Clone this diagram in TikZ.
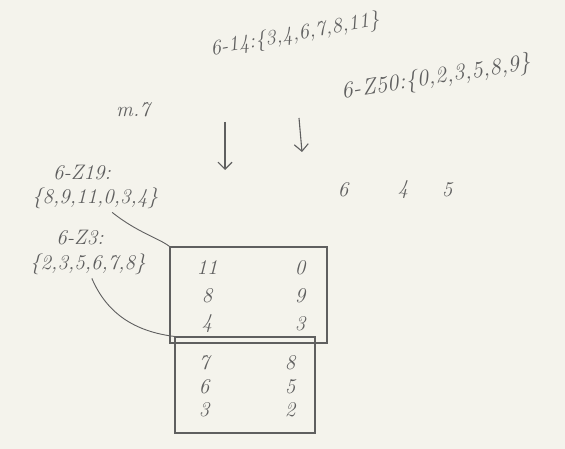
\documentclass[tikz,border=0pt]{standalone}
\usetikzlibrary{arrows.meta}
\definecolor{pencil}{RGB}{95, 95, 95}
\definecolor{paper} {RGB}{244, 243, 236}

\begin{document}
\begin{tikzpicture}[x=1pt, y=-1pt, line width=1.1pt, draw=pencil,
  >={Straight Barb[length=7pt, width=14pt]},
  every node/.style={font=\fontsize{21}{24}\selectfont\itshape, text=pencil},
  numbox/.style={draw=pencil, line width=1.1pt, inner sep=0pt},
]

% ── paper ────────────────────────────────────────────────
\fill[paper] (0,0) rectangle (565,449);
\useasboundingbox (0,0) rectangle (565,449);

% ── top labels ───────────────────────────────────────────
\node[rotate=10, inner sep=1pt] (z14) at (295,35) {6-14:\{3,4,6,7,8,11\}};
\node[rotate=9, inner sep=1pt, font=\fontsize{23}{27}\selectfont\itshape]
  (z50) at (436,78) {6-\kern1.5pt Z50:\{0,2,3,5,8,9\}};
\node (mseven) at (133,110) {m.7};

% ── arrows ───────────────────────────────────────────────
\coordinate (arrAtop) at (225,122);
\coordinate (arrAbot) at (225,170);
\coordinate (arrBtop) at (299,118);
\coordinate (arrBbot) at (302,152);
\draw[->] (arrAtop) -- (arrAbot);
\draw[->] (arrBtop) -- (arrBbot);

% ── 6 4 5 ────────────────────────────────────────────────
\node (six)  at (343,190) {6};
\node (four) at (403,190) {4};
\node (five) at (447,190) {5};

% ── left labels ──────────────────────────────────────────
\node (z19)    at (82,173)  {6-Z19:};
\node (z19set) at (95,198)  {\{8,9,11,0,3,4\}};
\node (z3)     at (80,238)  {6-Z3:};
\node (z3set)  at (88,264)  {\{2,3,5,6,7,8\}};

% ── boxes ────────────────────────────────────────────────
\node[numbox, minimum width=157pt, minimum height=96pt] (boxA) at (248.5,295) {};
\node[numbox, minimum width=140pt, minimum height=96pt] (boxB) at (245,385) {};

\foreach \l/\r/\y in {11/0/268, 8/9/296, 4/3/324}
  \node (boxAl\y) at (207,\y) {\l} node (boxAr\y) at (300,\y) {\r};
\foreach \l/\r/\y in {7/8/363, 6/5/387, 3/2/410}
  \node (boxBl\y) at (204,\y) {\l} node (boxBr\y) at (290,\y) {\r};

% ── connectors ───────────────────────────────────────────
\draw[line width=0.9pt] (z19set.-40) .. controls +(25,20) and +(-10,-8) .. (boxA.north west);
\draw[line width=0.9pt] (z3set.-75) .. controls +(15,35) and +(-40,-5) .. (boxB.north west);

\end{tikzpicture}
\end{document}
